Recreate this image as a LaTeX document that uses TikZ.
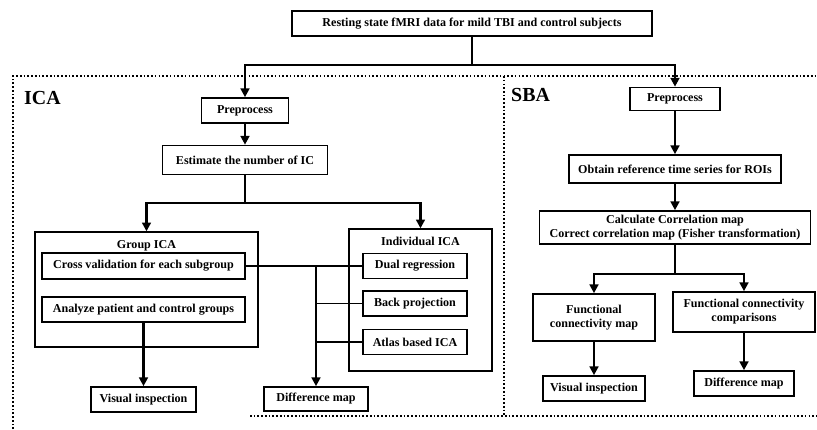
\documentclass[tikz,border=0pt]{standalone}
\usepackage{fontspec}
\setmainfont{Liberation Serif}
\usepackage{tikz}
\usetikzlibrary{arrows.meta,positioning,calc}

\begin{document}
\begin{tikzpicture}[
    x=0.3mm, y=-0.3mm,
    stepbox/.style={draw, line width=1.4pt, minimum height=7.5mm, inner sep=1pt, align=center, font=\fontsize{10.3}{11.8}\selectfont\bfseries},
    groupbox/.style={draw, line width=1.2pt, inner sep=0pt},
    grouptitle/.style={font=\fontsize{10.3}{11.8}\selectfont\bfseries, inner sep=0pt},
    region/.style={line width=1.6pt, dash pattern=on 1.4pt off 1.8pt},
    regiontitle/.style={font=\fontsize{17}{20}\selectfont\bfseries, inner sep=0pt, anchor=west},
    arr/.style={-{Triangle[length=7.5pt, width=7.5pt]}, line width=2pt},
    link/.style={line width=2pt},
    thinlink/.style={line width=1.5pt}
]
\useasboundingbox (0,0) rectangle (817,429);

% dotted frames for the two analyses
\draw[region] (13,429) -- (13,76) -- (817,76);
\draw[region] (504,76) -- (504,416);
\draw[region] (250,416) -- (817,416);
\node[regiontitle] (icalabel) at (24,98) {ICA};
\node[regiontitle] (sbalabel) at (511,95) {SBA};

% input data
\node[stepbox, minimum width=10.8cm] (data) at (472,23.5) {Resting state fMRI data for mild TBI and control subjects};

% ICA branch
\node[stepbox, minimum width=2.61cm] (preI) at (245,110.5) {Preprocess};
\node[stepbox, minimum width=4.95cm, minimum height=8.7mm] (est) at (245,160) {Estimate the number of IC};

\node[groupbox, minimum width=6.69cm, minimum height=3.45cm] (grp) at (146.5,289.5) {};
\node[grouptitle] (grptitle) at (146.5,246) {Group ICA};
\node[stepbox, minimum width=6.09cm, minimum height=7.8mm] (cross) at (143.5,266) {Cross validation for each subgroup};
\node[stepbox, minimum width=6.09cm] (anal) at (143.5,309.5) {Analyze patient and control groups};
\node[stepbox, minimum width=3.15cm] (visI) at (143.5,399.5) {Visual inspection};

\node[groupbox, minimum width=4.29cm, minimum height=4.26cm] (ind) at (420.5,300) {};
\node[grouptitle] (indtitle) at (420.5,241) {Individual ICA};
\node[stepbox, minimum width=3.12cm] (dual) at (415,266) {Dual regression};
\node[stepbox, minimum width=3.12cm] (back) at (415,303.5) {Back projection};
\node[stepbox, minimum width=3.12cm] (atlas) at (415,342) {Atlas based ICA};
\node[stepbox, minimum width=3.12cm, minimum height=7.2mm] (diffI) at (316,399) {Difference map};

% SBA branch
\node[stepbox, minimum width=2.7cm, minimum height=6.9mm] (preS) at (675,99) {Preprocess};
\node[stepbox, minimum width=6.36cm, minimum height=8.4mm] (obt) at (675,169) {Obtain reference time series for ROIs};
\node[stepbox, minimum width=8.13cm, minimum height=9.9mm] (calc) at (675,227.5) {Calculate Correlation map\\Correct correlation map (Fisher transformation)};
\node[stepbox, minimum width=3.66cm, minimum height=1.41cm] (fcm) at (594,317.5) {Functional\\connectivity map};
\node[stepbox, minimum width=4.26cm, minimum height=1.2cm] (fcc) at (744,312) {Functional connectivity\\comparisons};
\node[stepbox, minimum width=3.06cm] (visS) at (594,388.5) {Visual inspection};
\node[stepbox, minimum width=3.0cm] (diffS) at (744,383.5) {Difference map};

% split points
\coordinate (splitD) at (472,65);
\coordinate (splitE) at (245,203);
\coordinate (splitC) at (675,274);
\coordinate (join) at (316,266);

\draw[link] (data) -- (splitD);
\draw[arr] (splitD) -| (preI);
\draw[arr] (splitD) -| (preS);

\draw[arr] (preI) -- (est);
\draw[link] (est) -- (splitE);
\draw[arr] (splitE) -| (grp);
\draw[arr] (splitE) -| (ind);
\draw[arr] (anal) -- (visI);

\draw[thinlink] (cross.east) -- (dual.west);
\draw[thinlink] (back.west) -- (back.west -| join);
\draw[thinlink] (atlas.west) -- (atlas.west -| join);
\draw[arr] (join) -- (diffI);

\draw[arr] (preS) -- (obt);
\draw[arr] (obt) -- (calc);
\draw[link] (calc) -- (splitC);
\draw[arr] (splitC) -| (fcm);
\draw[arr] (splitC) -| (fcc);
\draw[arr] (fcm) -- (visS);
\draw[arr] (fcc) -- (diffS);
\end{tikzpicture}
\end{document}
